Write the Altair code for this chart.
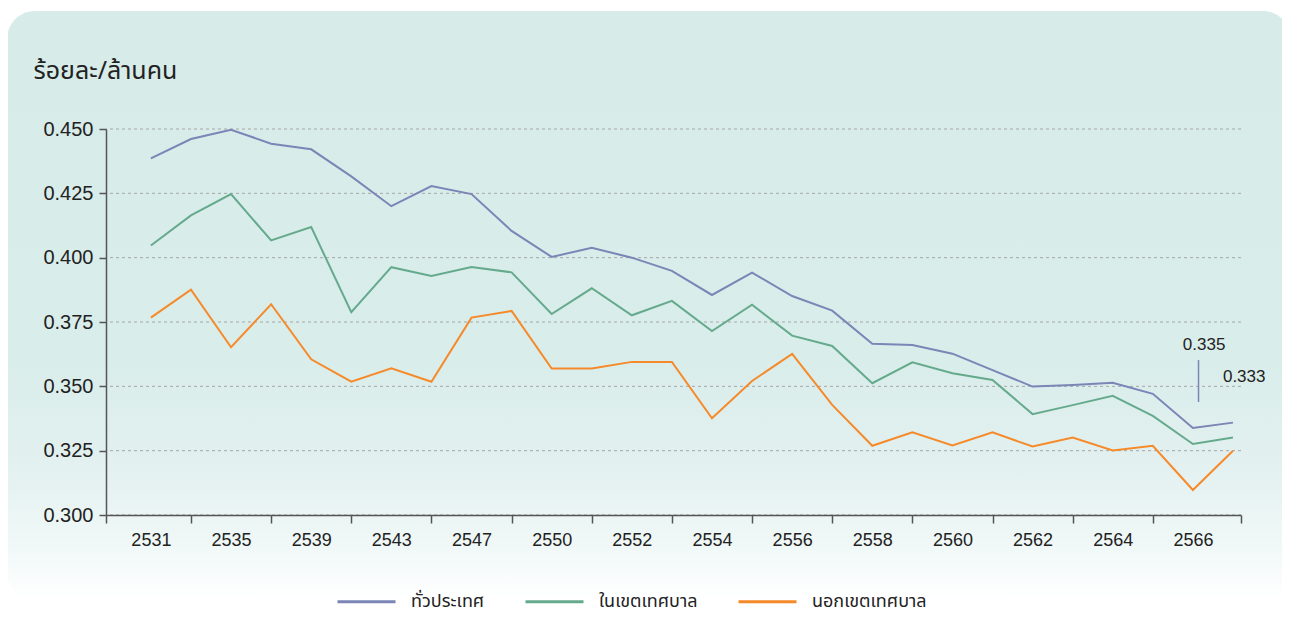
import altair as alt
import pandas as pd

# ---------------- data ----------------
years = ['2531', '2533', '2535', '2537', '2539', '2541', '2543', '2545', '2547', '2549',
         '2550', '2551', '2552', '2553', '2554', '2555', '2556', '2557', '2558', '2559',
         '2560', '2561', '2562', '2563', '2564', '2565', '2566', '2567']

whole = [0.4386, 0.4461, 0.4497, 0.4443, 0.4421, 0.4316, 0.4200, 0.4278, 0.4247, 0.4104,
         0.4003, 0.4038, 0.4000, 0.3949, 0.3855, 0.3942, 0.3851, 0.3794, 0.3665, 0.3661,
         0.3627, 0.3563, 0.3499, 0.3505, 0.3514, 0.3471, 0.3338, 0.3359]
urban = [0.4047, 0.4164, 0.4247, 0.4067, 0.4119, 0.3788, 0.3963, 0.3929, 0.3964, 0.3943,
         0.3781, 0.3881, 0.3776, 0.3832, 0.3715, 0.3817, 0.3697, 0.3657, 0.3512, 0.3593,
         0.3551, 0.3525, 0.3392, 0.3427, 0.3463, 0.3385, 0.3276, 0.3301]
rural = [0.3767, 0.3876, 0.3652, 0.3819, 0.3605, 0.3518, 0.3570, 0.3518, 0.3767, 0.3793,
         0.3569, 0.3569, 0.3595, 0.3595, 0.3376, 0.3521, 0.3626, 0.3428, 0.3269, 0.3321,
         0.3270, 0.3321, 0.3266, 0.3301, 0.3251, 0.3269, 0.3097, 0.3250]

series_names = ['ทั่วประเทศ', 'ในเขตเทศบาล', 'นอกเขตเทศบาล']
series_colors = ['#7b85b6', '#66aa8d', '#f68a2a']
y_ticks = [0.300, 0.325, 0.350, 0.375, 0.400, 0.425, 0.450]
y_title = 'ร้อยละ/ล้านคน'

ann_text = ['0.335', '0.333']
ann_idx = [26.28, 27.28]
ann_val = [0.3661, 0.3536]
leader_idx = [26.14]
leader_top = [0.3602]
leader_bottom = [0.3439]

# ---------------- tables ----------------
rows = []
for name, vals in zip(series_names, [whole, urban, rural]):
    for i, (yr, v) in enumerate(zip(years, vals)):
        rows.append({'idx': i, 'year': yr, 'series': name, 'value': v})
df = pd.DataFrame(rows)
grid_df = pd.DataFrame({'tick': y_ticks})
ann_df = pd.DataFrame({'idx': ann_idx, 'value': ann_val, 'label': ann_text})
leader_df = pd.DataFrame({'idx': leader_idx, 'top': leader_top, 'bottom': leader_bottom})
card_df = pd.DataFrame({'card': [1]})

# ---------------- layout / style ----------------
W, H = 1135, 386
NUM_FONT = 'Liberation Sans, Arial, Helvetica, sans-serif'
THAI_FONT = 'Noto Sans Thai, Noto Sans Thai Looped, Loma, Garuda, Liberation Sans, sans-serif'
AXIS_COLOR = '#555555'
TEXT_COLOR = '#222222'

x_lo, x_hi = -1.12, 27.2
x_values = [x_lo] + list(range(len(years) - 1)) + [x_hi]
year_arr = '[' + ','.join("'%s'" % y for y in years) + ']'
label_expr = "(datum.value %% 2 === 0) ? %s[datum.value] : ''" % year_arr

xscale = alt.Scale(domain=[x_lo, x_hi], nice=False, zero=False)
yscale = alt.Scale(domain=[0.3, 0.45], nice=False, zero=False)

xaxis = alt.Axis(
    values=x_values, labelExpr=label_expr, title=None, grid=False,
    tickColor={"condition": {"test": "datum.value % 2 === 0", "value": "transparent"},
               "value": AXIS_COLOR},
    tickSize=8, tickWidth=1.5, domainColor=AXIS_COLOR, domainWidth=1.5,
    labelFont=NUM_FONT, labelFontSize=18, labelColor=TEXT_COLOR, labelPadding=8,
    labelOverlap=False, labelFlush=False, zindex=1,
)
yaxis = alt.Axis(
    values=y_ticks, format='.3f', grid=False,
    tickSize=7, tickWidth=1.5, tickColor=AXIS_COLOR, domainColor=AXIS_COLOR, domainWidth=1.5,
    labelFont=NUM_FONT, labelFontSize=20, labelColor=TEXT_COLOR, labelPadding=6,
    title=y_title, titleAngle=0, titleAlign='left', titleBaseline='middle',
    titleX=-73, titleY=-59, titleFont=THAI_FONT, titleFontSize=25,
    titleFontWeight='normal', titleColor=TEXT_COLOR, zindex=1,
)


def X(field):
    return alt.X(field, type='quantitative', scale=xscale, axis=xaxis)


def Y(field):
    return alt.Y(field, type='quantitative', scale=yscale, axis=yaxis)


card = alt.Chart(card_df).mark_rect(
    cornerRadius=28,
    fill=alt.Gradient(
        gradient='linear', x1=0, y1=0, x2=0, y2=1,
        stops=[
            alt.GradientStop(color='#d7ebe9', offset=0),
            alt.GradientStop(color='#d9edeb', offset=0.6),
            alt.GradientStop(color='#e3f1f0', offset=0.78),
            alt.GradientStop(color='#eff8f7', offset=0.9),
            alt.GradientStop(color='#ffffff', offset=1),
        ],
    ),
).encode(x=alt.value(-99), x2=alt.value(1185), y=alt.value(-118), y2=alt.value(471))

grid = alt.Chart(grid_df).mark_rule(
    color='#a6a6a6', strokeDash=[3, 3], strokeWidth=1
).encode(y=Y('tick'))

lines = alt.Chart(df).mark_line(strokeWidth=2).encode(
    x=X('idx'),
    y=Y('value'),
    color=alt.Color(
        'series:N',
        scale=alt.Scale(domain=series_names, range=series_colors),
        legend=alt.Legend(
            title=None, orient='none', legendX=230, legendY=442,
            direction='horizontal', columns=3, symbolType='stroke',
            symbolSize=3364, symbolStrokeWidth=3, labelFont=THAI_FONT,
            labelFontSize=18, labelColor=TEXT_COLOR, columnPadding=34, labelOffset=14,
        ),
    ),
    order='idx:Q',
)

leader = alt.Chart(leader_df).mark_rule(color=series_colors[0], strokeWidth=1.5).encode(
    x=X('idx'), y=Y('top'), y2='bottom'
)

ann = alt.Chart(ann_df).mark_text(
    font=NUM_FONT, fontSize=17, color=TEXT_COLOR, align='center', baseline='middle'
).encode(x=X('idx'), y=Y('value'), text='label:N')

chart = alt.layer(card, grid, lines, leader, ann).properties(
    width=W, height=H,
    autosize=alt.AutoSizeParams(type='none'),
    padding={'left': 98, 'top': 121, 'right': 41, 'bottom': 103},
    background='white',
).configure_view(stroke=None)

chart.save('out.html', embed_options={'renderer': 'svg', 'actions': False})
